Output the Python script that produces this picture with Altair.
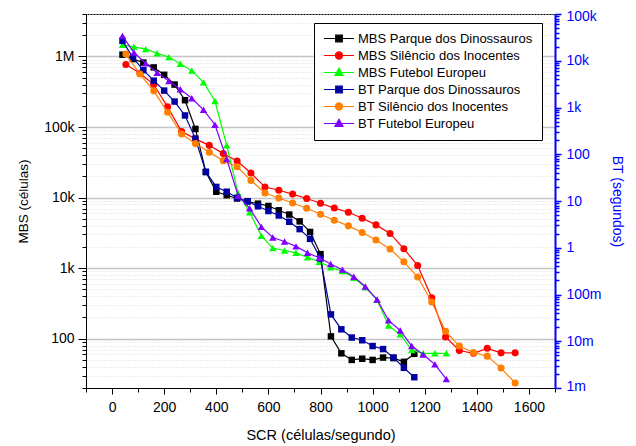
import altair as alt
import pandas as pd

# ---------------- data ----------------
series_names = [
    "MBS Parque dos Dinossauros",
    "MBS Silêncio dos Inocentes",
    "MBS Futebol Europeu",
    "BT Parque dos Dinossauros",
    "BT Silêncio dos Inocentes",
    "BT Futebol Europeu",
]
series_colors = ["#000000", "#FF0000", "#00FF00", "#0000A0", "#FF8000", "#8000FF"]

x_parque = [40, 80, 120, 160, 200, 240, 280, 320, 360, 400, 440, 480, 520, 560, 600,
            640, 680, 720, 760, 800, 840, 880, 920, 960, 1000, 1040, 1080, 1120, 1160]
mbs_parque = [1.06e6, 9.2e5, 8.2e5, 7.0e5, 5.5e5, 4.0e5, 2.4e5, 9.4e4, 2.3e4, 1.21e4,
              1.08e4, 9.7e3, 8.8e3, 8.2e3, 7.6e3, 6.6e3, 5.75e3, 4.6e3, 3.26e3, 1.58e3,
              108, 62, 50, 52, 50, 54, 53, 47, 61]
bt_parque = [2.67e4, 1.17e4, 6.3e3, 3.75e3, 2.3e3, 1.34e3, 676, 216, 42, 20,
             15.8, 11.7, 9.9, 7.7, 6.1, 4.9, 3.6, 2.5, 1.55, 0.59,
             0.0375, 0.018, 0.012, 0.0105, 0.0079, 0.0068, 0.0045, 0.0027, 0.0017]

x_silencio = [53, 107, 160, 213, 267, 320, 373, 427, 480, 533, 587, 640, 693, 747, 800,
              853, 907, 960, 1013, 1067, 1120, 1173, 1227, 1280, 1333, 1387, 1440, 1493, 1547]
mbs_silencio = [7.7e5, 5.8e5, 4.0e5, 1.93e5, 8.6e4, 6.8e4, 5.5e4, 4.2e4, 3.3e4, 2.23e4,
                1.41e4, 1.27e4, 1.12e4, 9.7e3, 8.3e3, 7.1e3, 6.2e3, 5.1e3, 4.1e3, 3.1e3,
                1.88e3, 1.09e3, 380, 106, 68, 62, 73, 63, 63]
bt_silencio = [1.39e4, 5.2e3, 2.27e3, 794, 270, 169, 110, 73, 54, 27.6,
               14.8, 11.6, 9.06, 7.0, 5.2, 3.88, 2.94, 2.12, 1.46, 0.94,
               0.50, 0.236, 0.069, 0.0163, 0.0079, 0.00575, 0.0048, 0.00267, 0.00128]

x_futebol = [40, 84, 129, 173, 218, 262, 306, 351, 395, 440, 484, 528, 573, 617, 662,
             706, 750, 795, 839, 884, 928, 972, 1017, 1061, 1106, 1150, 1194, 1239, 1283]
mbs_futebol = [1.46e6, 1.37e6, 1.27e6, 1.11e6, 9.8e5, 7.9e5, 6.3e5, 4.3e5, 2.34e5, 5.5e4,
               1.15e4, 6.2e3, 2.87e3, 1.92e3, 1.78e3, 1.65e3, 1.42e3, 1.23e3, 1.03e3, 906,
               729, 535, 355, 153, 115, 69, 62, 62, 62]
bt_futebol = [3.4e4, 1.5e4, 8.8e3, 5.56e3, 3.7e3, 2.45e3, 1.58e3, 893, 428, 79,
              13, 7.0, 2.8, 1.66, 1.36, 1.07, 0.78, 0.61, 0.45, 0.34,
              0.24, 0.148, 0.078, 0.028, 0.017, 0.0079, 0.0052, 0.0032, 0.00155]

x_ticks = list(range(-100, 1800, 100))

# ---------------- styling ----------------
FONT = "Liberation Sans"
BLUE = "#0000FF"
MAJOR = "abs(log(datum.value)/LN10 - round(log(datum.value)/LN10)) < 0.001"
XMAJOR = "datum.value % 200 == 0 && datum.value >= 0 && datum.value <= 1600"

left_vals = sorted({round(m * 10.0 ** e, 6) for e in range(1, 7) for m in range(1, 10)
                    if 20 <= m * 10.0 ** e <= 4e6})
right_vals = sorted({round(m * 10.0 ** e, 6) for e in range(-3, 6) for m in range(1, 10)
                     if m * 10.0 ** e <= 1e5 + 1})

left_dom = [20, 4e6]
right_dom = [1e-3, 1e5]

x_enc = alt.X(
    "scr:Q",
    scale=alt.Scale(domain=[-100, 1700], nice=False, zero=False),
    axis=alt.Axis(
        values=x_ticks,
        title="SCR (células/segundo)",
        labelExpr=f"{XMAJOR} ? format(datum.value, 'd') : ''",
        tickSize={"condition": {"test": XMAJOR, "value": 6}, "value": 4},
        grid=False,
        domainColor="black", tickColor="black", labelColor="black", titleColor="black",
        labelFontSize=14, titleFontSize=14.5, labelPadding=6, titlePadding=14,
        labelOverlap=False, labelFlush=False,
    ),
)

left_axis = alt.Axis(
    values=left_vals,
    orient="left",
    title="MBS (células)",
    labelExpr=f"{MAJOR} ? format(datum.value, '~s') : ''",
    tickSize={"condition": {"test": MAJOR, "value": 8}, "value": 4},
    grid=True,
    gridColor={"condition": {"test": MAJOR, "value": "#c4c4c4"}, "value": "#dadada"},
    gridDash={"condition": {"test": MAJOR, "value": []}, "value": [1, 2]},
    gridWidth={"condition": {"test": MAJOR, "value": 1.3}, "value": 1},
    domainColor="black", tickColor="black", labelColor="black", titleColor="black",
    labelFontSize=14, titleFontSize=13.5, labelPadding=4, titlePadding=13,
    labelOverlap=False, labelFlush=False,
)

right_axis = alt.Axis(
    values=right_vals,
    orient="right",
    title="BT (segundos)",
    labelExpr=f"{MAJOR} ? format(datum.value, '~s') : ''",
    tickSize={"condition": {"test": MAJOR, "value": 6}, "value": 4},
    grid=False,
    domainColor=BLUE, domainWidth=2, tickColor=BLUE, tickWidth=1.5,
    labelColor=BLUE, titleColor=BLUE,
    labelFontSize=14, titleFontSize=14, labelPadding=5, titlePadding=8,
    labelOverlap=False, labelFlush=True, labelFlushOffset=5,
)


def series_layers(xs, ys, color, shape, size, side, with_axis):
    df = pd.DataFrame({"scr": xs, "val": ys})
    dom = left_dom if side == "left" else right_dom
    ax = (left_axis if side == "left" else right_axis) if with_axis else None
    y_line = alt.Y("val:Q", scale=alt.Scale(type="log", domain=dom, nice=False), axis=ax)
    y_pt = alt.Y("val:Q", scale=alt.Scale(type="log", domain=dom, nice=False), axis=None)
    line = alt.Chart(df).mark_line(color=color, strokeWidth=1.2).encode(x=x_enc, y=y_line)
    pts = alt.Chart(df).mark_point(shape=shape, filled=True, color=color, size=size,
                                   opacity=1).encode(x=x_enc, y=y_pt)
    return [line, pts]


layers = []
layers += series_layers(x_parque, mbs_parque, series_colors[0], "square", 42, "left", True)
layers += series_layers(x_silencio, mbs_silencio, series_colors[1], "circle", 50, "left", False)
layers += series_layers(x_futebol, mbs_futebol, series_colors[2], "triangle-up", 55, "left", False)
layers += series_layers(x_parque, bt_parque, series_colors[3], "square", 42, "right", True)
layers += series_layers(x_silencio, bt_silencio, series_colors[4], "circle", 50, "right", False)
layers += series_layers(x_futebol, bt_futebol, series_colors[5], "triangle-up", 55, "right", False)

# legend-only layer (line + marker symbols)
sq = "M-1,0H1M-0.22,-0.22H0.22V0.22H-0.22Z"
ci = "M-1,0H1M-0.24,0A0.24,0.24 0 1,0 0.24,0A0.24,0.24 0 1,0 -0.24,0Z"
tr = "M-1,0H1M0,-0.28L0.27,0.2H-0.27Z"
legend_shapes = [sq, ci, tr, sq, ci, tr]

leg = alt.Legend(
    title=None, orient="none", legendX=228, legendY=9,
    symbolSize=900, symbolStrokeWidth=1.2, clipHeight=13,
    labelFont=FONT, labelFontSize=13, labelColor="black", labelLimit=400,
    fillColor="white", strokeColor="black", padding=9, rowPadding=3,
    labelOffset=3, symbolOffset=0,
    labelExpr="datum.label + '\u00a0'",
)
legend_df = pd.DataFrame({"serie": series_names})
legend_layer = alt.Chart(legend_df).mark_point(filled=True, opacity=1).encode(
    fill=alt.Fill("serie:N", scale=alt.Scale(domain=series_names, range=series_colors), legend=leg),
    stroke=alt.Stroke("serie:N", scale=alt.Scale(domain=series_names, range=series_colors), legend=leg),
    shape=alt.Shape("serie:N", scale=alt.Scale(domain=series_names, range=legend_shapes), legend=leg),
).transform_filter("false")

chart = alt.layer(*layers, legend_layer).resolve_scale(
    y="independent"
).properties(
    width=469, height=374,
    autosize=alt.AutoSizeParams(type="none"),
    padding={"left": 78, "top": 6, "right": 73, "bottom": 58},
).configure_view(
    stroke="black", strokeWidth=1
).configure_axis(
    labelFont=FONT, titleFont=FONT, titleFontWeight="normal"
).configure_legend(
    labelFont=FONT
)

chart.save("out.html", embed_options={"renderer": "svg", "actions": False})
